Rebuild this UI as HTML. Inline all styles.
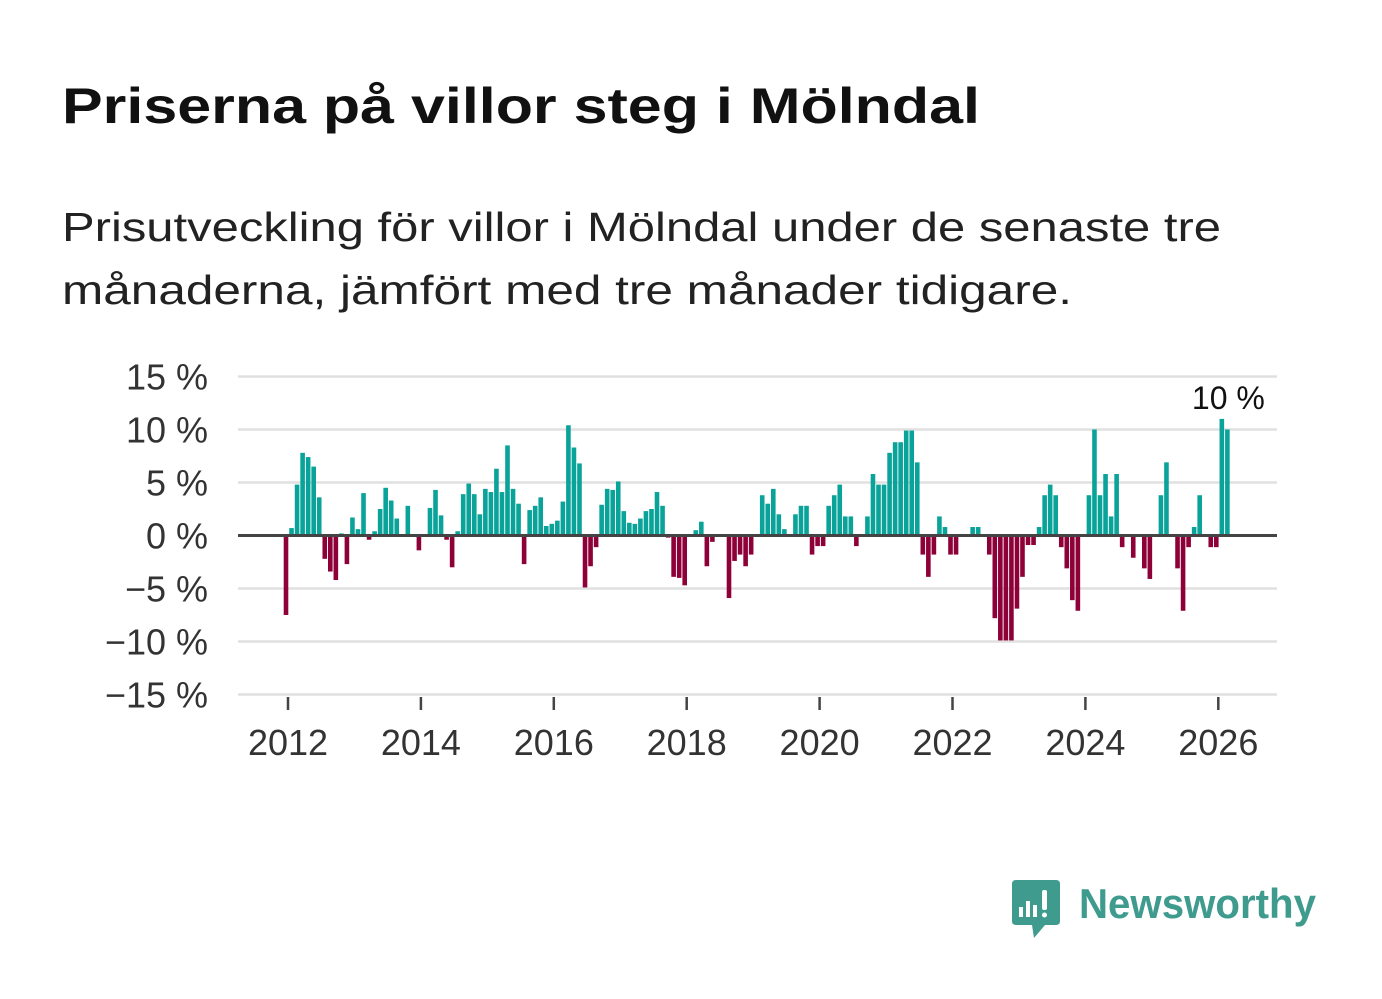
<!DOCTYPE html>
<html><head><meta charset="utf-8"><style>
html,body{margin:0;padding:0;background:#fff;}
svg{display:block;font-family:"Liberation Sans",Arial,sans-serif;}
</style></head><body>
<svg id="chart" width="1382" height="999" viewBox="0 0 1382 999" xmlns="http://www.w3.org/2000/svg">
<text x="62" y="123" font-size="50" font-weight="bold" fill="#111" textLength="918" lengthAdjust="spacingAndGlyphs">Priserna på villor steg i Mölndal</text>
<text x="62" y="241" font-size="41" fill="#222" textLength="1159" lengthAdjust="spacingAndGlyphs">Prisutveckling för villor i Mölndal under de senaste tre</text>
<text x="62" y="304" font-size="41" fill="#222" textLength="1010" lengthAdjust="spacingAndGlyphs">månaderna, jämfört med tre månader tidigare.</text>
<g id="grid"></g>
<g id="bars"></g>
<g id="axes"></g>
<g>
  <path d="M1016 880 H1056 Q1060 880 1060 884 V921 Q1060 925 1056 925 H1045 L1034 938 L1032 925 H1016 Q1012 925 1012 921 V884 Q1012 880 1016 880 Z" fill="#3f9b8e"/>
  <rect x="1019" y="907" width="4" height="10" fill="#fff"/>
  <rect x="1026" y="901" width="4" height="16" fill="#fff"/>
  <rect x="1033" y="905" width="4" height="12" fill="#fff"/>
  <rect x="1042" y="890" width="5" height="20" rx="2" fill="#fff"/>
  <circle cx="1044.5" cy="915" r="2.5" fill="#fff"/>
  <text x="1079" y="918" font-size="42" font-weight="bold" fill="#3f9b8e" textLength="237" lengthAdjust="spacingAndGlyphs">Newsworthy</text>
</g>
</svg>
<script>
const yTicks = [15, 10, 5, 0, -5, -10, -15];
const xTickYears = [2012, 2014, 2016, 2018, 2020, 2022, 2024, 2026];
const startYear = 2012;
const values = [
-7.5,0.7,4.8,7.8,7.4,6.5,3.6,-2.2,-3.4,-4.2,0.2,-2.7,
1.7,0.6,4.0,-0.4,0.4,2.5,4.5,3.3,1.6,0,2.8,0,
-1.4,0,2.6,4.3,1.9,-0.4,-3.0,0.4,3.9,4.9,3.9,2.0,
4.4,4.1,6.3,4.1,8.5,4.4,3.0,-2.7,2.4,2.8,3.6,0.9,
1.1,1.4,3.2,10.4,8.3,6.8,-4.9,-2.9,-1.1,2.9,4.4,4.3,
5.1,2.3,1.2,1.1,1.6,2.3,2.5,4.1,2.8,-0.2,-3.9,-4.0,
-4.7,0,0.5,1.3,-2.9,-0.6,0,0,-5.9,-2.4,-1.8,-2.9,
-1.8,0,3.8,3.0,4.4,2.0,0.6,0,2.0,2.8,2.8,-1.8,
-1.0,-1.0,2.8,3.8,4.8,1.8,1.8,-1.0,0,1.8,5.8,4.8,
4.8,7.8,8.8,8.8,9.9,9.9,6.9,-1.8,-3.9,-1.8,1.8,0.8,
-1.8,-1.8,0,0,0.8,0.8,0,-1.8,-7.8,-9.9,-9.9,-9.9,
-6.9,-3.9,-0.9,-0.9,0.8,3.8,4.8,3.8,-1.1,-3.1,-6.1,-7.1,
0,3.8,10,3.8,5.8,1.8,5.8,-1.1,0,-2.1,0,-3.1,
-4.1,0,3.8,6.9,0,-3.1,-7.1,-1.1,0.8,3.8,0,
-1.1,-1.1,11.0,10.0
];
const lastLabel = "10 %";

const NS = "http://www.w3.org/2000/svg";
const x0 = 238, x1 = 1277;
const yScale = v => 535.5 - v * 10.6;
const yearPx = 66.45;
const xScale = yr => 288 + (yr - startYear) * yearPx;

function mk(tag, attrs, parent) {
  const el = document.createElementNS(NS, tag);
  for (const k in attrs) el.setAttribute(k, attrs[k]);
  parent.appendChild(el);
  return el;
}
const grid = document.getElementById('grid');
const bars = document.getElementById('bars');
const axes = document.getElementById('axes');

yTicks.forEach(t => {
  if (t !== 0) {
    const l = mk('line', {x1: x0, x2: x1, y1: yScale(t), y2: yScale(t), stroke: '#e0e0e0', 'stroke-width': 2.5}, grid);
    
    
  }
  const tx = mk('text', {x: 208, y: yScale(t) + 13, 'text-anchor': 'end', 'font-size': 36, fill: '#333'}, axes);
  tx.textContent = (t < 0 ? '\u2212' + Math.abs(t) : t) + ' %';
  
  
});

values.forEach((v, i) => {
  if (v === 0) return;
  const cx = xScale(startYear + i / 12) - 2;
  const y0 = yScale(0), y = yScale(v);
  const r = mk('rect', {x: cx - 2.3, y: Math.min(y0, y), width: 4.6, height: Math.abs(y - y0), fill: v > 0 ? '#0aa39a' : '#8e0038'}, bars);
  
  
});

const zl = mk('line', {x1: x0, x2: x1, y1: yScale(0), y2: yScale(0), stroke: '#444', 'stroke-width': 3}, axes);



xTickYears.forEach(yr => {
  const x = xScale(yr);
  const tk = mk('line', {x1: x, x2: x, y1: 697, y2: 710, stroke: '#444', 'stroke-width': 2.5}, axes);
  
  
  const tx = mk('text', {x: x, y: 755, 'text-anchor': 'middle', 'font-size': 36, fill: '#333'}, axes);
  tx.textContent = yr;
  
  
});

const li = values.length - 1;
const lbl = mk('text', {x: xScale(startYear + li / 12) - 1, y: 409, 'text-anchor': 'middle', 'font-size': 32, fill: '#111'}, axes);
lbl.textContent = lastLabel;


</script>
</body></html>
